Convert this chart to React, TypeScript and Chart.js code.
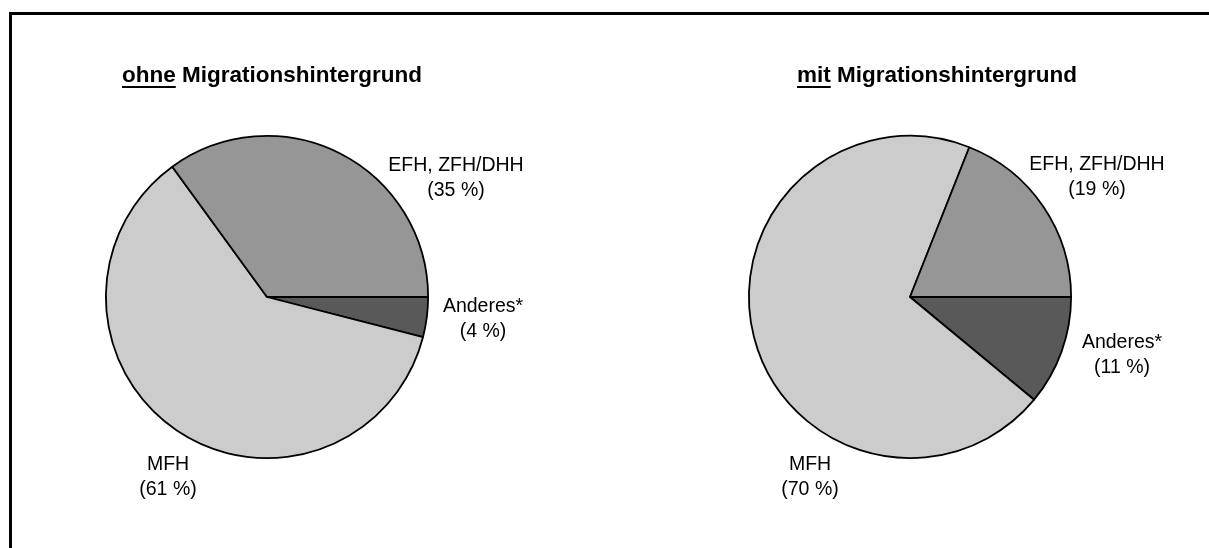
import React, { useEffect, useRef } from "react";
import { Chart, registerables } from "chart.js";

Chart.register(...registerables);

const categories = ["Anderes*", "MFH", "EFH, ZFH/DHH"];
const ohneValues = [4, 61, 35];
const mitValues = [11, 70, 19];
const sliceColors = ["#595959", "#cccccc", "#969696"];
const titleUnderlined = ["ohne", "mit"];
const titleRest = " Migrationshintergrund";

const FONT = "'Liberation Sans', Arial, sans-serif";

// label anchors relative to pie centre (x centre, first-line baseline)
const ohneLabelOffsets = [
  [216, 15],
  [-99, 173],
  [189, -126],
];
const mitLabelOffsets = [
  [212, 51],
  [-100, 173],
  [187, -127],
];

const pieLabelPlugin = {
  id: "pieLabels",
  afterDraw(chart: any, _args: any, opts: any) {
    const ctx = chart.ctx;
    const meta = chart.getDatasetMeta(0);
    const arc = meta.data[0];
    if (!arc) return;
    const cx = arc.x;
    const cy = arc.y;
    const values = chart.data.datasets[0].data;
    ctx.save();
    ctx.fillStyle = "#000";
    ctx.textAlign = "center";
    ctx.textBaseline = "alphabetic";
    ctx.font = `19.5px ${FONT}`;
    chart.data.labels.forEach((lab: string, i: number) => {
      const [dx, dy] = opts.offsets[i];
      ctx.fillText(lab, cx + dx, cy + dy);
      ctx.fillText(`(${values[i]} %)`, cx + dx, cy + dy + opts.lineGap);
    });
    // title
    ctx.textAlign = "left";
    ctx.font = `bold 22.5px ${FONT}`;
    const u = opts.titleU;
    const uw = ctx.measureText(u).width;
    ctx.fillText(u, opts.titleX, opts.titleY);
    ctx.fillText(opts.titleRest, opts.titleX + uw, opts.titleY);
    ctx.fillRect(opts.titleX, opts.titleY + 4, uw, 2);
    ctx.restore();
  },
};

function makeChart(
  canvas: HTMLCanvasElement,
  values: number[],
  offsets: number[][],
  padding: any,
  titleU: string,
  titleX: number
) {
  return new Chart(canvas, {
    type: "pie",
    data: {
      labels: categories,
      datasets: [
        {
          data: values,
          backgroundColor: sliceColors,
          borderColor: "#000",
          borderWidth: 1.8,
        },
      ],
    },
    options: {
      responsive: false,
      animation: false,
      rotation: 90,
      layout: { padding },
      plugins: {
        legend: { display: false },
        tooltip: { enabled: false },
        title: { display: false },
        pieLabels: {
          offsets,
          lineGap: 25,
          titleU,
          titleRest,
          titleX,
          titleY: 82,
        },
      } as any,
    },
    plugins: [pieLabelPlugin],
  });
}

export default function App() {
  const leftRef = useRef<HTMLCanvasElement>(null);
  const rightRef = useRef<HTMLCanvasElement>(null);

  useEffect(() => {
    const c1 = makeChart(
      leftRef.current!,
      ohneValues,
      ohneLabelOffsets,
      { left: 105, right: 171, top: 135, bottom: 89 },
      titleUnderlined[0],
      122
    );
    const c2 = makeChart(
      rightRef.current!,
      mitValues,
      mitLabelOffsets,
      { left: 148, right: 137, top: 135, bottom: 89 },
      titleUnderlined[1],
      197
    );
    return () => {
      c1.destroy();
      c2.destroy();
    };
  }, []);

  return (
    <div
      style={{
        position: "absolute",
        left: 0,
        top: 0,
        width: 1209,
        height: 548,
        overflow: "hidden",
        background: "#fff",
      }}
    >
      <div
        style={{
          position: "absolute",
          left: 9,
          top: 12,
          width: 1200,
          height: 536,
          borderTop: "3px solid #000",
          borderLeft: "3px solid #000",
        }}
      />
      <canvas
        ref={leftRef}
        width={600}
        height={548}
        style={{ position: "absolute", left: 0, top: 0 }}
      />
      <canvas
        ref={rightRef}
        width={609}
        height={548}
        style={{ position: "absolute", left: 600, top: 0 }}
      />
    </div>
  );
}
